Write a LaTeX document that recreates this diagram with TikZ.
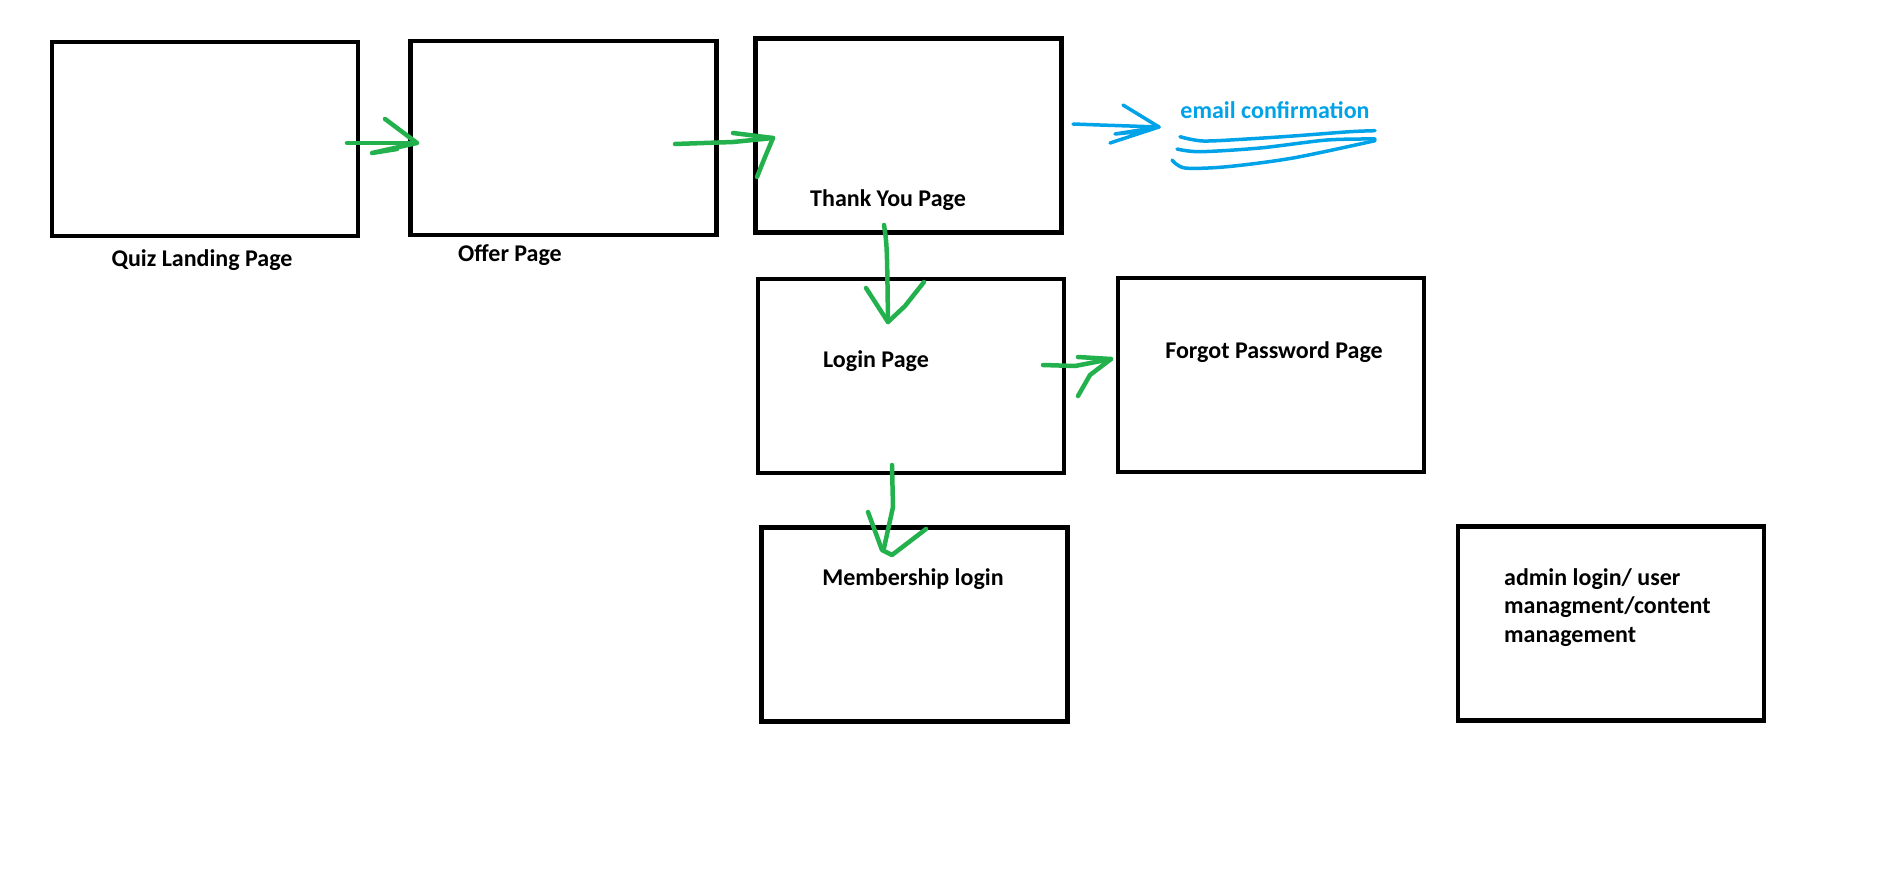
\documentclass[tikz,border=0pt]{standalone}
\usepackage{fontspec}
\setmainfont{Carlito}
\definecolor{pgreen}{HTML}{22B14C}
\definecolor{pblue}{HTML}{00A2E8}
\begin{document}
\begin{tikzpicture}[x=1pt,y=-1pt,
  page/.style={draw=black, line width=4.2pt, minimum width=306pt, minimum height=194pt, inner sep=0pt},
  lbl/.style={font=\bfseries\fontsize{24}{28.5}\selectfont, inner sep=0pt, anchor=base},
  gstroke/.style={draw=pgreen, line width=4.5pt, line cap=round, line join=round},
  bstroke/.style={draw=pblue, line width=3.5pt, line cap=round, line join=round}]
\useasboundingbox[fill=white] (0,0) rectangle (1888,872);
% boxes
\node[page] (quiz)   at (205,139.3) {};
\node[page] (offer)  at (563.5,138) {};
\node[page] (thanks) at (908.5,135.5) {};
\node[page] (login)  at (911,376) {};
\node[page] (forgot) at (1271,375) {};
\node[page] (member) at (914.5,624.5) {};
\node[page] (admin)  at (1611,623.5) {};
% labels
\node[lbl] (tquiz)   at (202,266) {Quiz Landing Page};
\node[lbl] (toffer)  at (510,261) {Offer Page};
\node[lbl] (tthanks) at (888,207) {Thank You Page};
\node[lbl] (tlogin)  at (876,367) {Login Page};
\node[lbl] (tforgot) at (1274,358) {Forgot Password Page};
\node[lbl] (tmember) at (913,585) {Membership login};
\node[lbl, anchor=north west, align=left] (tadmin) at (1504,568) {admin login/ user\\managment/content\\management};
\node[lbl, text=pblue] (temail) at (1275,119) {email confirmation};
% connector end points
\coordinate (a1s) at (347,143); \coordinate (a1t) at (417,143);
\coordinate (a2s) at (675,144); \coordinate (a2t) at (773,138);
\coordinate (a3s) at (884,225); \coordinate (a3t) at (888,322);
\coordinate (a4s) at (1043,365); \coordinate (a4t) at (1111,359);
\coordinate (a5s) at (892,465); \coordinate (a5t) at (892,555);
\coordinate (bs) at (1073,124); \coordinate (bt) at (1159,127);
% quiz -> offer
\draw[gstroke] (a1s) -- (a1t);
\draw[gstroke] (a1t) ++(-32,-24) -- (a1t) -- ++(-45,10) -- ++(25,-4);
% offer -> thank you
\draw[gstroke] (a2s) -- (733,142) -- (a2t);
\draw[gstroke] (a2t) ++(-40,-5) -- (a2t) -- ++(-8,19) -- ++(-8,20);
% thank you -> login
\draw[gstroke] (a3s) .. controls (887,245) .. (a3t);
\draw[gstroke] (a3t) ++(-22,-34) -- (a3t) -- ++(17,-16) -- ++(19,-24);
% login -> forgot
\draw[gstroke] (a4s) -- (1075,366) -- (a4t);
\draw[gstroke] (a4t) ++(-33,-2) -- (a4t) -- ++(-21,16) -- ++(-12,21);
% login -> membership
\draw[gstroke] (a5s) -- (893,507) -- (884,548);
\draw[gstroke] (a5t) ++(-24,-43) -- ++(14,38) -- (a5t) -- ++(34,-26);
% email confirmation arrow
\draw[bstroke] (bs) -- (1100,125) -- (bt);
\draw[bstroke] (bt) ++(-36,-22) -- (bt) -- ++(-44,7) -- ++(20,-2) -- (bt) -- ++(-49,16);
% underlines
\draw[bstroke] plot[smooth] coordinates {(1180,136.7) (1203,141) (1247,139) (1293,136) (1350,131.7) (1375,130.7)};
\draw[bstroke] plot[smooth] coordinates {(1177,149) (1200,151.7) (1260,148) (1327,140) (1375,139)};
\draw[bstroke] plot[smooth] coordinates {(1172,160) (1185,168) (1227,166.7) (1293,158) (1375,140.7)};
\end{tikzpicture}
\end{document}
